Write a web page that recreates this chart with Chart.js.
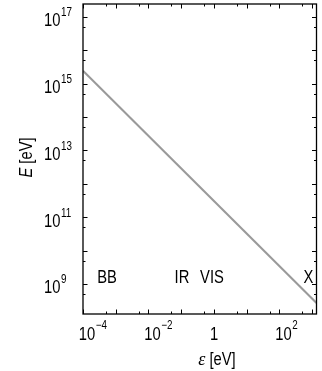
<!DOCTYPE html>
<html>
<head>
<meta charset="utf-8">
<script src="https://cdn.jsdelivr.net/npm/chart.js@4.4.1/dist/chart.umd.min.js"></script>
<style>
  html, body { margin: 0; padding: 0; background: #fff; }
  #wrap { width: 322px; height: 371px; position: relative; }
</style>
</head>
<body>
<div id="wrap"><canvas id="pairChart"></canvas></div>
<script>
// photon energy eps [eV] against threshold energy E [eV]
var epsValues = [1e-4, 1350];
var energyValues = [2.4e15, 2.7e8];

// axis ranges
var xRange = [1e-4, 1350];
var yRange = [1.26e8, 2.4e17];

// labelled decades (exponents)
var xLabelExps = [-4, -2, 0, 2];
var yLabelExps = [9, 11, 13, 15, 17];

// band names written inside the plot
var bandNames = ['BB', 'IR', 'VIS', 'X'];
var bandEps = [5.4e-4, 0.105, 0.87, 770];
var bandE = [1.72e9, 1.72e9, 1.72e9, 1.72e9];

// check if the narrow font is there, otherwise squeeze Liberation Sans
var probe = document.createElement('canvas').getContext('2d');
probe.font = '18px monospace';
var w1 = probe.measureText('BBVIS10').width;
probe.font = "18px 'Liberation Sans Narrow', monospace";
var w2 = probe.measureText('BBVIS10').width;
var hasNarrow = Math.abs(w1 - w2) > 0.5;
var squeeze = hasNarrow ? 1 : 0.82;

function sansFont(size, italic) {
  return (italic ? 'italic ' : '') + size + 'px ' + (hasNarrow ? "'Liberation Sans Narrow'" : "'Liberation Sans'");
}
function textWidth(ctx, s, font, sq) {
  ctx.font = font;
  return ctx.measureText(s).width * sq;
}
function putText(ctx, s, x, y, font, sq) {
  ctx.save();
  ctx.font = font;
  ctx.textAlign = 'left';
  ctx.textBaseline = 'alphabetic';
  ctx.translate(x, y);
  ctx.scale(sq, 1);
  ctx.fillText(s, 0, 0);
  ctx.restore();
}
function supLabel(exp) {
  return String(exp).replace('-', '\u2212');
}

var framePlugin = {
  id: 'frame',
  afterDraw: function(chart) {
    var ctx = chart.ctx;
    var a = chart.chartArea;
    var xs = chart.scales.x, ys = chart.scales.y;
    ctx.save();
    ctx.fillStyle = '#000';
    ctx.strokeStyle = '#000';

    // inward ticks, decades long, 5x minor short
    ctx.lineWidth = 1;
    ctx.beginPath();
    for (var e = -4; e <= 3; e++) {
      [[Math.pow(10, e), 4.5], [5 * Math.pow(10, e), 2.5]].forEach(function(t) {
        if (t[0] < xRange[0] || t[0] > xRange[1]) return;
        var px = Math.round(xs.getPixelForValue(t[0])) + 0.5;
        ctx.moveTo(px, a.bottom); ctx.lineTo(px, a.bottom - t[1]);
        ctx.moveTo(px, a.top); ctx.lineTo(px, a.top + t[1]);
      });
    }
    for (var k = 8; k <= 17; k++) {
      [[Math.pow(10, k), 4.5], [5 * Math.pow(10, k), 2.5]].forEach(function(t) {
        if (t[0] < yRange[0] || t[0] > yRange[1]) return;
        var py = Math.round(ys.getPixelForValue(t[0])) + 0.5;
        ctx.moveTo(a.left, py); ctx.lineTo(a.left + t[1], py);
        ctx.moveTo(a.right, py); ctx.lineTo(a.right - t[1], py);
      });
    }
    ctx.stroke();

    // frame
    ctx.lineWidth = 1.3;
    ctx.strokeRect(a.left, a.top, a.right - a.left, a.bottom - a.top);

    var big = sansFont(18, false), small = sansFont(12, false);

    // x tick labels
    xLabelExps.forEach(function(e) {
      var px = xs.getPixelForValue(Math.pow(10, e));
      if (e === 0) {
        var w = textWidth(ctx, '1', big, squeeze);
        putText(ctx, '1', px - w / 2, 339.5, big, squeeze);
        return;
      }
      var w10 = textWidth(ctx, '10', big, squeeze);
      var left = px + 4 - w10 / 2;
      putText(ctx, '10', left, 339.5, big, squeeze);
      putText(ctx, supLabel(e), left + w10 + 0.5, 328.5, small, squeeze);
    });

    // y tick labels
    yLabelExps.forEach(function(e) {
      var py = ys.getPixelForValue(Math.pow(10, e));
      var w10 = textWidth(ctx, '10', big, squeeze);
      putText(ctx, '10', 44, py + 9.5, big, squeeze);
      putText(ctx, supLabel(e), 44 + w10 + 0.5, py - 0.5, small, squeeze);
    });

    // band names
    bandNames.forEach(function(name, i) {
      var px = xs.getPixelForValue(bandEps[i]);
      var py = ys.getPixelForValue(bandE[i]);
      var w = textWidth(ctx, name, big, squeeze);
      putText(ctx, name, px - w / 2, py + 6.5, big, squeeze);
    });

    // x title: eps [eV]
    var epsFont = "italic 18px 'Liberation Serif'";
    var wEps = textWidth(ctx, '\u03b5', epsFont, 1);
    var wRest = textWidth(ctx, ' [eV]', big, squeeze);
    var startX = 217 - (wEps + wRest) / 2;
    putText(ctx, '\u03b5', startX, 365, epsFont, 1);
    putText(ctx, ' [eV]', startX + wEps, 365, big, squeeze);

    // y title: E [eV]
    ctx.save();
    ctx.translate(31.5, 157.5);
    ctx.rotate(-Math.PI / 2);
    var itFont = sansFont(18, true);
    var wE = textWidth(ctx, 'E', itFont, squeeze);
    var wUnit = textWidth(ctx, ' [eV]', big, squeeze);
    var sx = -(wE + wUnit) / 2;
    putText(ctx, 'E', sx, 0, itFont, squeeze);
    putText(ctx, ' [eV]', sx + wE, 0, big, squeeze);
    ctx.restore();

    ctx.restore();
  }
};

var points = epsValues.map(function(x, i) { return { x: x, y: energyValues[i] }; });

new Chart(document.getElementById('pairChart').getContext('2d'), {
  type: 'line',
  data: {
    datasets: [{
      data: points,
      borderColor: '#9a9a9a',
      borderWidth: 2,
      pointRadius: 0,
      tension: 0,
      fill: false
    }]
  },
  options: {
    responsive: true,
    maintainAspectRatio: false,
    animation: false,
    layout: { padding: { left: 83, right: 5.5, top: 4, bottom: 57 } },
    plugins: { legend: { display: false }, tooltip: { enabled: false } },
    scales: {
      x: {
        type: 'logarithmic',
        min: xRange[0],
        max: xRange[1],
        ticks: { display: false },
        grid: { display: false },
        border: { display: false },
        afterFit: function(s) { s.height = 0; }
      },
      y: {
        type: 'logarithmic',
        min: yRange[0],
        max: yRange[1],
        ticks: { display: false },
        grid: { display: false },
        border: { display: false },
        afterFit: function(s) { s.width = 0; }
      }
    }
  },
  plugins: [framePlugin]
});
</script>
</body>
</html>
